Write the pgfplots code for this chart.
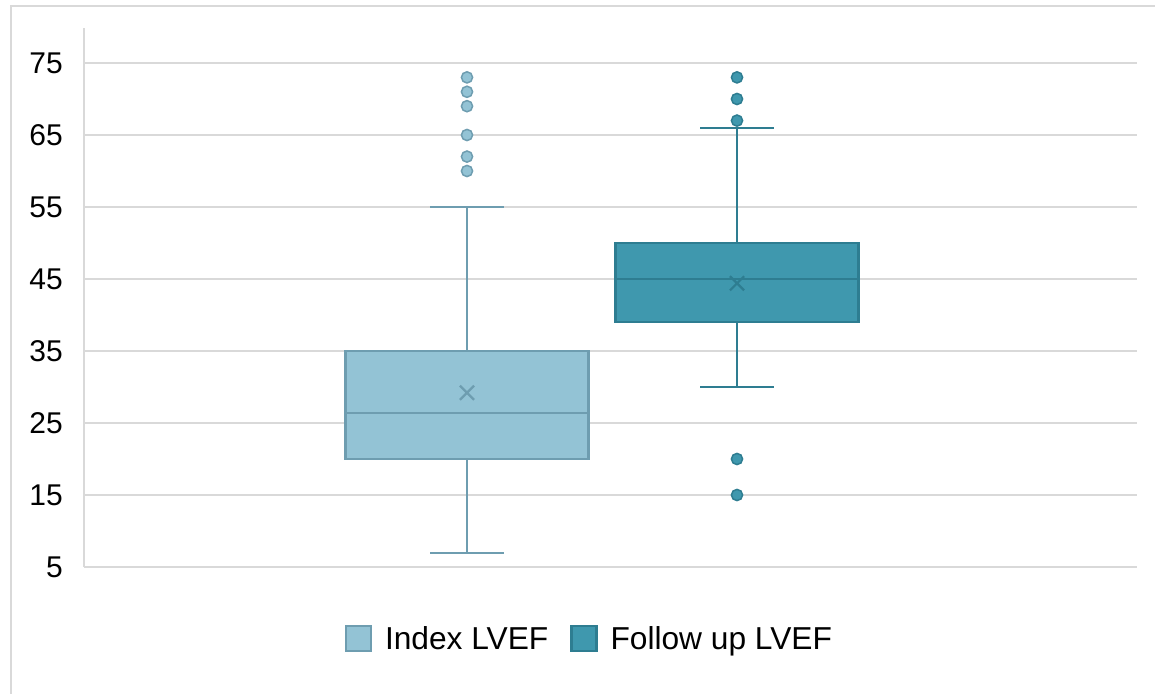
\documentclass[border=0pt]{standalone}
\usepackage{pgfplots}
\pgfplotsset{compat=1.18}
\usepackage{fontspec}
\setmainfont{Liberation Sans}
\definecolor{gridgray}{HTML}{D9D9D9}
\definecolor{fillA}{HTML}{93C3D5}
\definecolor{drawA}{HTML}{6E9DB0}
\definecolor{fillB}{HTML}{3F98AE}
\definecolor{drawB}{HTML}{2E7D91}
\begin{document}
\begin{tikzpicture}
\path[use as bounding box] (-84pt,-126pt) rectangle (1071pt,567pt);
\draw[gridgray, line width=2pt] (-73pt,-140pt) -- (-73pt,561pt) -- (1100pt,561pt);
\begin{axis}[
  at={(0pt,0pt)}, anchor=south west,
  scale only axis, width=1053pt, height=539pt,
  xmin=0, xmax=1053, ymin=5, ymax=79.86,
  ytick={5,15,...,75}, xtick=\empty,
  ymajorgrids, grid style={gridgray, line width=2pt},
  axis lines*=left, axis line style={gridgray, line width=2pt},
  major tick length=0pt,
  /pgf/number format/assume math mode=true,
  tick label style={font=\fontsize{30}{36}\selectfont, text=black},
  yticklabel style={inner sep=0pt, xshift=-21pt},
  clip=false,
  legend columns=2,
  legend style={draw=none, fill=none, at={(0.479,-0.132)}, anchor=center,
    font=\fontsize{31.7}{36}\selectfont, inner sep=0pt,
    /tikz/every even column/.append style={column sep=22pt},
    nodes={inner sep=0pt, text depth=0pt}},
  legend image code/.code={\draw[#1, line width=2.2pt] (0pt,-12.5pt) rectangle (25pt,12.5pt);},
  legend cell align=left,
  line join=miter,
]
\addlegendimage{fill=fillA, draw=drawA}
\addlegendentry{\hspace{13pt}Index LVEF}
\addlegendimage{fill=fillB, draw=drawB}
\addlegendentry{\hspace{13pt}Follow up LVEF}

% Index LVEF: whiskers
\addplot[forget plot, draw=drawA, line width=2.2pt] coordinates {(383,7) (383,20)};
\addplot[forget plot, draw=drawA, line width=2.2pt] coordinates {(383,35) (383,55)};
\addplot[forget plot, draw=drawA, line width=2.2pt] coordinates {(346,7) (420,7)};
\addplot[forget plot, draw=drawA, line width=2.2pt] coordinates {(346,55) (420,55)};
% box
\addplot[forget plot, fill=fillA, draw=drawA, line width=2.2pt]
  coordinates {(261.5,20) (504.5,20) (504.5,35) (261.5,35)} -- cycle;
\addplot[forget plot, draw=drawA, line width=2.2pt] coordinates {(261.5,26.4) (504.5,26.4)};
% outliers
\addplot[forget plot, only marks, mark=*, mark size=5.6pt,
  mark options={fill=fillA, draw=drawA, line width=1.5pt}]
  coordinates {(383,60) (383,62) (383,65) (383,69) (383,71) (383,73)};
% mean
\addplot[forget plot, only marks, mark=x, mark size=10pt, draw=drawA, line width=2.2pt]
  coordinates {(383,29.2)};

% Follow up LVEF: whiskers
\addplot[forget plot, draw=drawB, line width=2.2pt] coordinates {(653,30) (653,39)};
\addplot[forget plot, draw=drawB, line width=2.2pt] coordinates {(653,50) (653,66)};
\addplot[forget plot, draw=drawB, line width=2.2pt] coordinates {(616,30) (690,30)};
\addplot[forget plot, draw=drawB, line width=2.2pt] coordinates {(616,66) (690,66)};
% box
\addplot[forget plot, fill=fillB, draw=drawB, line width=2.2pt]
  coordinates {(531.5,39) (774.5,39) (774.5,50) (531.5,50)} -- cycle;
\addplot[forget plot, draw=drawB, line width=2.2pt] coordinates {(531.5,45) (774.5,45)};
% outliers
\addplot[forget plot, only marks, mark=*, mark size=5.6pt,
  mark options={fill=fillB, draw=drawB, line width=1.5pt}]
  coordinates {(653,15) (653,20) (653,67) (653,70) (653,73)};
% mean
\addplot[forget plot, only marks, mark=x, mark size=10pt, draw=drawB, line width=2.2pt]
  coordinates {(653,44.4)};
\end{axis}
\end{tikzpicture}
\end{document}
